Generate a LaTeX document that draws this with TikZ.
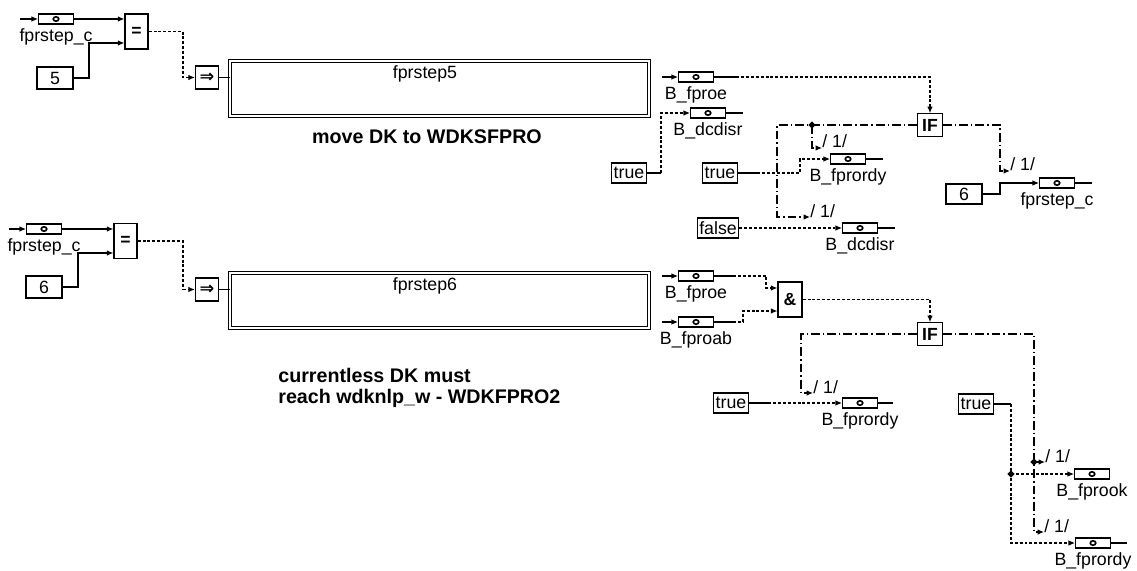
\documentclass[tikz,border=0pt]{standalone}
\usepackage{fontspec}
\setmainfont{Liberation Sans}
\newfontfamily\symfont{DejaVu Sans}
\usepackage{tikz}
\usetikzlibrary{shapes.geometric, arrows.meta, positioning, calc}
\tikzset{
	flag/.style   ={rectangle, draw=black, line width=0.6pt, minimum width=0.7cm, minimum height=0.2cm, inner sep=0pt,
		path picture={\draw[line width=0.9pt] (path picture bounding box.center) ellipse (0.055cm and 0.045cm);}},
	lbl/.style    ={inner sep=0pt},
	const/.style  ={rectangle, draw=black, line width=0.6pt, minimum width=0.72cm, minimum height=0.44cm, inner sep=0pt},
	bconst/.style ={rectangle, draw=black, line width=0.6pt, minimum height=0.4cm, inner xsep=1pt, inner ysep=0pt},
	op/.style     ={rectangle, draw=black, line width=0.7pt, font=\bfseries, minimum width=0.46cm, minimum height=0.7cm, inner sep=0pt},
	ifbox/.style  ={op, minimum width=0.5cm, minimum height=0.45cm},
	trig/.style   ={op, minimum height=0.46cm, font=\symfont\bfseries},
	stepblk/.style={rectangle, draw=black, double, double distance=1.3pt, line width=0.5pt, minimum width=8.38cm, minimum height=1.1cm},
	note/.style   ={font=\fontsize{11.2}{11.6}\selectfont\bfseries, inner sep=0pt},
	junc/.style   ={diamond, fill=black, minimum size=0.15cm, inner sep=0pt},
	one/.style    ={anchor=base west, inner sep=0pt},
	wire/.style   ={line width=0.6pt},
	sig/.style    ={-{Latex[length=1.3mm, width=1.1mm]}, line width=0.6pt},
	dots/.style   ={dash pattern=on 1.7pt off 1.1pt},
	ctrl/.style   ={dash pattern=on 5pt off 1.7pt on 0.8pt off 1.7pt},
}

\begin{document}
\begin{tikzpicture}[x=0.02cm, y=-0.02cm, font=\fontsize{10.1}{11.5}\selectfont]
	\path[fill=white, use as bounding box] (0,0) rectangle (1137,571);

	% step 5
	\coordinate (inA) at (20,19);
	\node[flag] (fA) at (56,19) {};
	\node[lbl, below=2pt of fA] (fAl) {fprstep\_c};
	\node[const] (cA) at (55,78) {5};
	\node[op] (eqA) at (136.5,31.5) {=};
	\node[trig] (imA) at (207,77.5) {⇒};
	\node[stepblk] (sA) at (439.5,88.5) {};
	\node[lbl] (sAn) at (425,74) {fprstep5};
	\node[note] (nA) at (427,137) {move DK to WDKSFPRO};
	\coordinate (kA) at (89,43);
	\coordinate (kB) at (183,77.5);
	\draw[sig] (inA) -- (fA.west);
	\draw[sig] (fA.east) -- (fA.east -| eqA.west);
	\draw[sig] (cA.east) -| (kA) -- (kA -| eqA.west);
	\draw[sig, dots] (eqA.east) -| (kB) -- (imA.west);
	\draw[wire] (imA.east) -- (imA.east -| sA.west);

	\coordinate (inB) at (662,77);
	\node[flag] (fB) at (696,77) {};
	\node[lbl, below=2pt of fB] (fBl) {B\_fproe};
	\node[ifbox] (ifA) at (930,125) {IF};
	\coordinate (oB) at (736,77);
	\draw[sig] (inB) -- (fB.west);
	\draw[wire] (fB.east) -- (oB);
	\draw[sig, dots] (oB) -| (ifA.north);

	\node[bconst] (trA) at (629,173) {true};
	\node[flag] (fC) at (708,113) {};
	\node[lbl, below=2pt of fC] (fCl) {B\_dcdisr};
	\coordinate (kC) at (661,173);
	\coordinate (oC) at (743,113);
	\draw[wire] (trA.east) -- (kC);
	\draw[sig, dots] (kC) |- (fC.west);
	\draw[wire] (fC.east) -- (oC);

	\node[bconst] (trB) at (720,173) {true};
	\node[flag] (fF) at (848,159) {};
	\node[lbl, below=2pt of fF] (fFl) {B\_fprordy};
	\coordinate (kF) at (757,173);
	\coordinate (kG) at (800,173);
	\coordinate (oF) at (883,159);
	\draw[wire] (trB.east) -- (kF);
	\draw[sig, dots] (kF) -- (kG) |- (fF.west);
	\draw[wire] (fF.east) -- (oF);

	\node[bconst] (flA) at (718,228) {false};
	\node[flag] (fG) at (860,228) {};
	\node[lbl, below=2pt of fG] (fGl) {B\_dcdisr};
	\coordinate (oG) at (895,228);
	\draw[sig, dots] (flA.east) -- (fG.west);
	\draw[wire] (fG.east) -- (oG);

	\coordinate (kD) at (777,217);
	\coordinate (pA) at (810,217);
	\coordinate (pB) at (822,148);
	\draw[sig, ctrl] (ifA.west) -- (kD |- ifA.west) -- (kD) -- (pA);
	\node[junc] (jA) at (812,125) {};
	\draw[sig, ctrl] (jA.center) |- (pB);
	\node[one] (oneA) at (pA) {/ 1/};
	\node[one] (oneB) at (pB) {/ 1/};

	\coordinate (kH) at (1000,171);
	\coordinate (pC) at (1010,171);
	\draw[sig, ctrl] (ifA.east) -| (kH) -- (pC);
	\node[one] (oneC) at (pC) {/ 1/};
	\node[const, minimum height=0.4cm] (cB) at (964,194) {6};
	\node[flag] (fI) at (1057,183) {};
	\node[lbl, below=2pt of fI] (fIl) {fprstep\_c};
	\coordinate (kI) at (1000,183);
	\coordinate (oI) at (1092,183);
	\draw[sig] (cB.east) -| (kI) -- (fI.west);
	\draw[wire] (fI.east) -- (oI);

	% step 6
	\coordinate (inC) at (9,229);
	\node[flag] (fJ) at (44,229) {};
	\node[lbl, below=2pt of fJ] (fJl) {fprstep\_c};
	\node[const] (cC) at (44,287) {6};
	\node[op] (eqB) at (125.5,241) {=};
	\node[trig] (imB) at (207,289.5) {⇒};
	\node[stepblk] (sB) at (439.5,300.5) {};
	\node[lbl] (sBn) at (425,286) {fprstep6};
	\node[note, anchor=west, align=left] (nB) at (278,388) {currentless DK must\\reach wdknlp\_w - WDKFPRO2};
	\coordinate (kJ) at (78,253);
	\coordinate (kK) at (183,289.5);
	\draw[sig] (inC) -- (fJ.west);
	\draw[sig] (fJ.east) -- (fJ.east -| eqB.west);
	\draw[sig] (cC.east) -| (kJ) -- (kJ -| eqB.west);
	\draw[sig, dots] (eqB.east) -| (kK) -- (imB.west);
	\draw[wire] (imB.east) -- (imB.east -| sB.west);

	\coordinate (inD) at (662,276);
	\coordinate (inE) at (662,322);
	\node[flag] (fK) at (696,276) {};
	\node[lbl, below=2pt of fK] (fKl) {B\_fproe};
	\node[flag] (fL) at (696,322) {};
	\node[lbl, below=2pt of fL] (fLl) {B\_fproab};
	\node[op, minimum width=0.48cm] (andA) at (790,299.5) {\&};
	\node[ifbox] (ifB) at (930,334) {IF};
	\coordinate (oK) at (733,276);
	\coordinate (oL) at (733,322);
	\coordinate (kL) at (766,288);
	\coordinate (kM) at (743,311);
	\draw[sig] (inD) -- (fK.west);
	\draw[sig] (inE) -- (fL.west);
	\draw[wire] (fK.east) -- (oK);
	\draw[wire] (fL.east) -- (oL);
	\draw[sig, dots] (oK) -| (kL) -- (kL -| andA.west);
	\draw[sig, dots] (oL) -| (kM) -- (kM -| andA.west);
	\draw[sig, dots] (andA.east) -| (ifB.north);

	\coordinate (kN) at (801,393);
	\coordinate (pD) at (813,393);
	\draw[sig, ctrl] (ifB.west) -| (kN) -- (pD);
	\node[one] (oneD) at (pD) {/ 1/};
	\node[bconst] (trC) at (731,403) {true};
	\node[flag] (fN) at (860,403) {};
	\node[lbl, below=2pt of fN] (fNl) {B\_fprordy};
	\coordinate (kP) at (768,403);
	\coordinate (oN) at (893,403);
	\draw[wire] (trC.east) -- (kP);
	\draw[sig, dots] (kP) -- (fN.west);
	\draw[wire] (fN.east) -- (oN);

	\coordinate (kO) at (1034,532);
	\coordinate (pE) at (1044,532);
	\coordinate (pF) at (1045,462);
	\draw[sig, ctrl] (ifB.east) -| (kO) -- (pE);
	\node[junc] (jB) at (1034,462) {};
	\draw[sig, ctrl] (jB.center) -- (pF);
	\node[one] (oneE) at (pE) {/ 1/};
	\node[one] (oneF) at (pF) {/ 1/};

	\node[bconst] (trD) at (976,404) {true};
	\node[flag] (fS) at (1092,474) {};
	\node[lbl, below=2pt of fS] (fSl) {B\_fprook};
	\node[flag] (fR) at (1093,543) {};
	\node[lbl, below=2pt of fR] (fRl) {B\_fprordy};
	\coordinate (kQ) at (1011,404);
	\coordinate (kR) at (1011,543);
	\coordinate (oR) at (1127,543);
	\draw[wire] (trD.east) -- (kQ);
	\draw[sig, dots] (kQ) -- (kR) -- (fR.west);
	\node[junc] (jC) at (1011,474) {};
	\draw[sig, dots] (jC.center) -- (fS.west);
	\draw[wire] (fR.east) -- (oR);
\end{tikzpicture}
\end{document}
